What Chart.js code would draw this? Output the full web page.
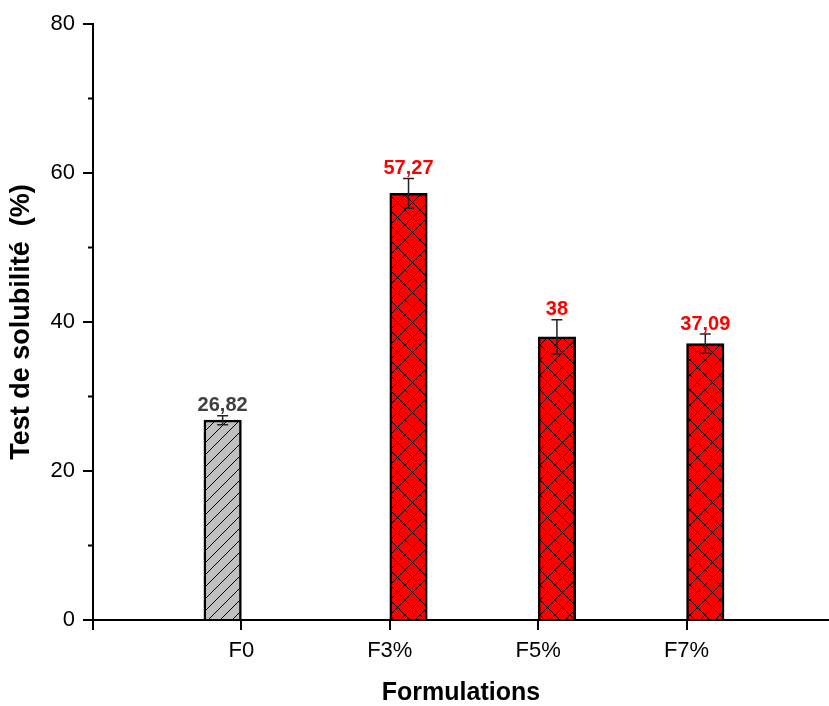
<!DOCTYPE html>
<html lang="fr">
<head>
<meta charset="utf-8">
<title>Test de solubilité</title>
<script src="https://cdn.jsdelivr.net/npm/chart.js@4/dist/chart.umd.min.js"></script>
<style>
  body { margin: 0; background: #fff; }
  canvas { display: block; }
</style>
</head>
<body>
<canvas id="graphique" width="829" height="706"></canvas>
<script>
// donnees
const categories = ["F0", "F3%", "F5%", "F7%"];
const solubilite = [26.82, 57.27, 38, 37.09];
const ecarts = [0.6, 2.0, 2.3, 1.3];
const etiquettes = ["26,82", "57,27", "38", "37,09"];
const groupes = ["temoin", "charge", "charge", "charge"];
const ticksY = [0, 20, 40, 60, 80];

let canvas = document.getElementById("graphique");

// motif de hachures pour le remplissage des barres
function hachures(fond, croise) {
  const taille = croise ? 15 : 12;
  const c = document.createElement("canvas");
  c.width = taille;
  c.height = taille;
  const g = c.getContext("2d");
  g.fillStyle = fond;
  g.fillRect(0, 0, taille, taille);
  g.strokeStyle = "#000";
  g.lineWidth = 1;
  g.beginPath();
  // diagonale "/"
  g.moveTo(-2, taille + 2);
  g.lineTo(taille + 2, -2);
  if (croise) {
    // diagonale "\"
    g.moveTo(-2, -2);
    g.lineTo(taille + 2, taille + 2);
  }
  g.stroke();
  return canvas.getContext("2d").createPattern(c, "repeat");
}

function serie(nom) {
  return categories
    .map((c, i) => (groupes[i] === nom ? { x: i + 1, y: solubilite[i] } : null))
    .filter((p) => p !== null);
}

// barres d'erreur + valeurs au-dessus
const erreursPlugin = {
  id: "erreurs",
  afterDatasetsDraw(chart) {
    const ctx = chart.ctx;
    const y = chart.scales.y;
    chart.data.datasets.forEach((ds, d) => {
      const meta = chart.getDatasetMeta(d);
      meta.data.forEach((barre, k) => {
        const i = ds.data[k].x - 1;
        const haut = y.getPixelForValue(solubilite[i] + ecarts[i]);
        const bas = y.getPixelForValue(solubilite[i] - ecarts[i]);
        ctx.save();
        ctx.strokeStyle = "#222";
        ctx.lineWidth = 1.5;
        ctx.beginPath();
        ctx.moveTo(barre.x, haut);
        ctx.lineTo(barre.x, bas);
        ctx.moveTo(barre.x - 5.5, haut);
        ctx.lineTo(barre.x + 5.5, haut);
        ctx.moveTo(barre.x - 5.5, bas);
        ctx.lineTo(barre.x + 5.5, bas);
        ctx.stroke();
        ctx.font = "bold 20px 'Liberation Sans', Arial, sans-serif";
        ctx.textAlign = "center";
        ctx.textBaseline = "middle";
        ctx.fillStyle = ds.couleurTexte;
        ctx.fillText(etiquettes[i], barre.x, haut - 10);
        ctx.restore();
      });
    });
  },
};

// petites graduations secondaires sur l'axe Y
const graduationsPlugin = {
  id: "graduations",
  afterDraw(chart) {
    const ctx = chart.ctx;
    const y = chart.scales.y;
    const gauche = chart.chartArea.left;
    ctx.save();
    ctx.strokeStyle = "#000";
    ctx.lineWidth = 2;
    for (let k = 0; k < ticksY.length - 1; k++) {
      const py = y.getPixelForValue((ticksY[k] + ticksY[k + 1]) / 2);
      ctx.beginPath();
      ctx.moveTo(gauche - 5, py);
      ctx.lineTo(gauche, py);
      ctx.stroke();
    }
    ctx.restore();
  },
};

const data = {
  datasets: [
    {
      label: "F0",
      data: serie("temoin"),
      backgroundColor: hachures("#c0c0c0", false),
      borderColor: "#000",
      borderWidth: 2.5,
      barThickness: 37.5,
      couleurTexte: "#404040",
    },
    {
      label: "F%",
      data: serie("charge"),
      backgroundColor: hachures("#ff0000", true),
      borderColor: "#000",
      borderWidth: 2.5,
      barThickness: 37.5,
      couleurTexte: "#ff0000",
    },
  ],
};

const config = {
  type: "bar",
  data,
  options: {
    responsive: false,
    animation: false,
    devicePixelRatio: 1,
    layout: { padding: { top: 24, right: 0, bottom: 0, left: 0 } },
    plugins: { legend: { display: false }, tooltip: { enabled: false } },
    scales: {
      x: {
        type: "linear",
        min: 0,
        max: 4.96,
        offset: false,
        afterFit: (scale) => { scale.height = 86; },
        afterBuildTicks: (scale) => {
          scale.ticks = [0, 1, 2, 3, 4].map((v) => ({ value: v }));
        },
        border: { color: "#000", width: 2 },
        grid: { offset: false, drawOnChartArea: false, tickLength: 10, tickColor: "#000", lineWidth: 2 },
        ticks: {
          padding: 8,
          color: "#000",
          maxRotation: 0,
          autoSkip: false,
          font: { family: "'Liberation Sans', Arial, sans-serif", size: 22 },
          callback: (v) => categories[v - 1] || "",
        },
        title: {
          display: true,
          text: "Formulations",
          color: "#000",
          padding: 0,
          font: { family: "'Liberation Sans', Arial, sans-serif", size: 25, weight: "bold", lineHeight: 1 },
        },
      },
      y: {
        min: 0,
        max: 80,
        afterFit: (scale) => { scale.width = 93; },
        border: { color: "#000", width: 2 },
        grid: { drawOnChartArea: false, tickLength: 10, tickColor: "#000", lineWidth: 2 },
        ticks: {
          stepSize: 20,
          padding: 8,
          color: "#000",
          font: { family: "'Liberation Sans', Arial, sans-serif", size: 22 },
        },
        title: {
          display: true,
          text: "Test de solubilité  (%)",
          color: "#000",
          padding: { top: 8, bottom: 0 },
          font: { family: "'Liberation Sans', Arial, sans-serif", size: 27, weight: "bold", lineHeight: 1 },
        },
      },
    },
  },
  plugins: [erreursPlugin, graduationsPlugin],
};

new Chart(canvas, config);
</script>
</body>
</html>
